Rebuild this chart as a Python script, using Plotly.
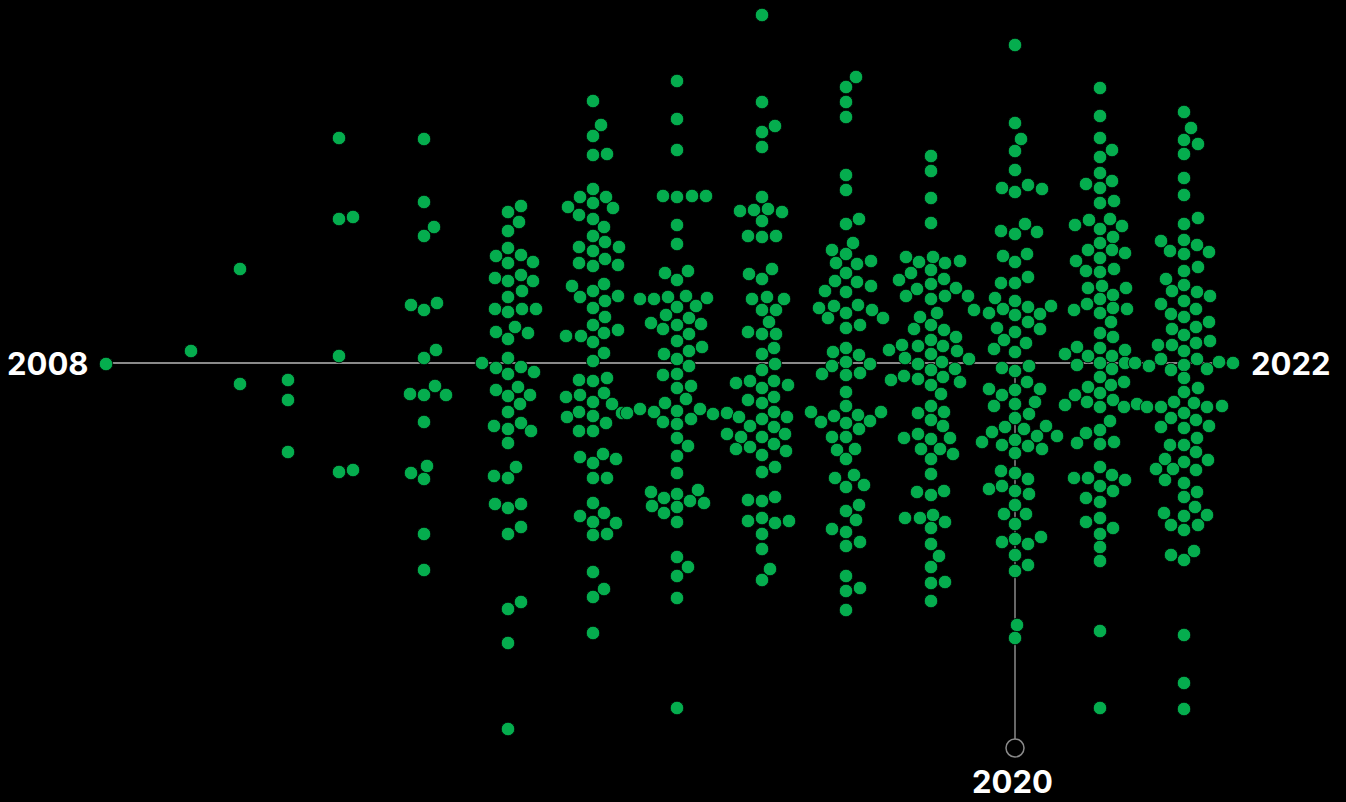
import plotly.graph_objects as go

# ---- data: horizontal position and vertical position of each dot, by year column ----
x_2008 = [106]
y_2008 = [364]
x_2009 = [191]
y_2009 = [351]
x_2010 = [240, 240]
y_2010 = [269, 384]
x_2011 = [288, 288, 288]
y_2011 = [380, 400, 452]
x_2012 = [339, 339, 353, 339, 339, 353]
y_2012 = [138, 219, 217, 356, 472, 470]

x_2013 = [424, 424, 434, 424, 411, 424, 437, 436, 424, 435, 410, 424, 446, 424, 427, 411, 424, 424, 424]
y_2013 = [139, 202, 227, 236, 305, 310, 303, 350, 358, 386, 394, 395, 395, 422, 466, 473, 479, 534, 570]

x_2014 = [521, 508, 519, 508, 508, 496, 521, 508, 533, 495, 521, 508, 533, 522, 508, 495, 522, 536, 508,
          515, 496, 528, 508, 508, 482, 496, 521, 508, 534, 496, 518, 508, 530, 520, 508, 494, 521, 508,
          531, 508, 516, 494, 508, 495, 521, 508, 521, 508, 521, 508, 508, 508]
y_2014 = [206, 212, 222, 231, 248, 256, 255, 263, 262, 278, 275, 281, 281, 291, 297, 309, 309, 309, 312,
          327, 332, 333, 339, 358, 363, 368, 367, 374, 372, 390, 387, 396, 395, 404, 412, 426, 423, 429,
          431, 443, 467, 476, 478, 504, 504, 508, 527, 534, 602, 609, 643, 729]

x_2015 = [593, 601, 593, 593, 607, 593, 580, 606, 593, 568, 613, 579, 593, 604, 593, 605, 579, 619, 593,
          605, 579, 593, 618, 572, 604, 593, 580, 605, 618, 593, 605, 593, 618, 566, 581, 604, 593, 604,
          593, 579, 593, 607, 566, 580, 604, 593, 612, 579, 567, 593, 622, 627, 606, 579, 593, 580, 603,
          616, 593, 593, 607, 593, 580, 604, 593, 616, 593, 607, 593, 604, 593, 593]
y_2015 = [101, 125, 136, 155, 154, 189, 197, 197, 203, 207, 208, 215, 219, 227, 236, 242, 247, 247, 251,
          259, 263, 266, 265, 286, 284, 291, 297, 301, 296, 308, 317, 325, 330, 336, 336, 333, 342, 353,
          361, 380, 381, 378, 397, 395, 393, 402, 404, 412, 417, 416, 413, 413, 423, 431, 431, 457, 454,
          459, 463, 478, 478, 503, 516, 513, 522, 523, 535, 534, 572, 589, 597, 633]

x_2016 = [677, 677, 677, 663, 677, 692, 706, 677, 677, 665, 688, 677, 640, 654, 668, 686, 707, 677, 696,
          666, 689, 651, 663, 677, 701, 689, 677, 664, 689, 702, 677, 689, 663, 677, 677, 691, 686, 665,
          677, 700, 640, 654, 663, 677, 691, 713, 727, 677, 688, 677, 677, 651, 664, 677, 698, 652, 677,
          690, 704, 664, 677, 677, 688, 677, 677, 677]
y_2016 = [81, 119, 150, 196, 197, 196, 196, 225, 244, 273, 271, 280, 299, 299, 297, 296, 298, 307, 306,
          315, 318, 323, 329, 325, 324, 334, 341, 354, 351, 347, 359, 366, 375, 374, 388, 386, 399, 403,
          411, 409, 409, 412, 422, 424, 419, 414, 413, 438, 446, 456, 473, 492, 498, 494, 490, 506, 507,
          501, 503, 513, 522, 557, 567, 576, 598, 708]

x_2017 = [762, 762, 775, 762, 762, 762, 740, 754, 768, 782, 762, 748, 762, 776, 749, 772, 762, 752, 767,
          784, 762, 776, 769, 748, 762, 776, 774, 762, 775, 762, 736, 750, 762, 774, 788, 748, 762, 774,
          739, 750, 762, 774, 787, 727, 741, 762, 774, 785, 736, 750, 762, 774, 786, 762, 775, 748, 762,
          775, 748, 762, 775, 789, 762, 762, 770, 762]
y_2017 = [15, 102, 126, 132, 147, 197, 211, 210, 209, 212, 221, 236, 237, 236, 274, 269, 279, 299, 297,
          299, 310, 310, 322, 332, 334, 334, 348, 354, 364, 370, 383, 381, 388, 381, 385, 400, 403, 397,
          417, 426, 419, 412, 417, 434, 437, 437, 427, 434, 449, 447, 455, 444, 451, 472, 467, 500, 501,
          497, 521, 518, 523, 521, 534, 549, 569, 580]

x_2018 = [856, 846, 846, 846, 846, 846, 846, 859, 853, 832, 846, 836, 857, 871, 846, 835, 857, 871, 825,
          846, 819, 834, 846, 858, 872, 883, 828, 846, 860, 833, 846, 859, 832, 846, 870, 822, 846, 860,
          846, 846, 858, 811, 821, 834, 846, 870, 881, 859, 832, 846, 837, 855, 846, 835, 854, 864, 846,
          846, 859, 856, 832, 846, 846, 860, 846, 846, 860, 846]
y_2018 = [77, 87, 102, 117, 175, 190, 224, 219, 243, 250, 254, 263, 264, 261, 273, 281, 282, 286, 291,
          292, 308, 306, 313, 305, 310, 318, 318, 328, 325, 352, 348, 355, 366, 362, 364, 374, 375, 373,
          392, 406, 415, 412, 422, 416, 423, 421, 412, 429, 437, 437, 450, 449, 459, 478, 475, 485, 487,
          511, 505, 520, 529, 532, 546, 542, 576, 591, 588, 610]

x_2019 = [931, 931, 931, 931, 906, 919, 933, 945, 960, 911, 931, 899, 917, 931, 944, 956, 906, 931, 945,
          968, 974, 920, 937, 914, 931, 944, 956, 889, 902, 918, 931, 943, 957, 969, 905, 931, 918, 942,
          955, 891, 904, 918, 931, 943, 960, 931, 941, 931, 944, 918, 931, 943, 904, 918, 931, 950, 921,
          940, 953, 931, 931, 917, 931, 944, 905, 920, 933, 945, 931, 931, 939, 931, 931, 945, 931]
y_2019 = [156, 171, 198, 223, 257, 262, 257, 263, 261, 273, 270, 280, 289, 284, 279, 288, 296, 299, 296,
          296, 310, 317, 313, 329, 325, 330, 337, 350, 345, 346, 340, 346, 351, 359, 358, 354, 364, 362,
          369, 380, 376, 379, 370, 377, 382, 385, 394, 406, 412, 413, 420, 426, 438, 434, 439, 438, 449,
          449, 454, 459, 474, 492, 495, 491, 518, 518, 515, 522, 528, 544, 556, 567, 583, 582, 601]

x_2020 = [1015, 1015, 1021, 1015, 1015, 1002, 1015, 1028, 1042, 1001, 1015, 1025, 1037, 1003, 1015, 1027,
          1001, 1015, 1028, 995, 1015, 1028, 1051, 989, 1003, 1015, 1040, 997, 1015, 1028, 1040, 1004,
          1026, 994, 1015, 1002, 1015, 1029, 989, 1002, 1015, 1027, 1040, 994, 1015, 1035, 1015, 1029,
          992, 1005, 1024, 1046, 982, 1002, 1015, 1037, 1057, 1015, 1028, 1042, 1001, 1015, 1028, 989,
          1002, 1015, 1029, 1015, 1004, 1026, 1015, 1002, 1015, 1028, 1041, 1015, 1015, 1028, 1017, 1015]
y_2020 = [45, 123, 139, 151, 170, 188, 192, 185, 189, 231, 234, 224, 232, 256, 262, 254,
          283, 283, 277, 298, 301, 307, 306, 313, 309, 315, 314, 328, 332, 322, 329, 340,
          343, 349, 352, 368, 371, 366, 389, 395, 390, 382, 389, 406, 404, 402, 418, 414,
          432, 427, 429, 426, 442, 445, 440, 436, 436, 453, 446, 449, 471, 473, 479, 489,
          486, 491, 494, 505, 514, 514, 524, 542, 539, 544, 537, 555, 571, 565, 625, 638]

x_2021 = [1100, 1100, 1100, 1100, 1112, 1100, 1086, 1100, 1112, 1100, 1114, 1075, 1089, 1100, 1110, 1122,
          1100, 1113, 1088, 1100, 1112, 1125, 1076, 1086, 1100, 1114, 1088, 1102, 1126, 1100, 1113, 1074,
          1087, 1100, 1113, 1127, 1111, 1100, 1113, 1065, 1077, 1088, 1100, 1112, 1125, 1077, 1100, 1112,
          1125, 1135, 1100, 1111, 1124, 1088, 1100, 1113, 1075, 1087, 1065, 1100, 1124, 1137, 1110, 1100,
          1086, 1077, 1100, 1114, 1100, 1112, 1074, 1088, 1100, 1125, 1086, 1113, 1100, 1086, 1100, 1113,
          1100, 1100, 1100, 1100, 1100]
y_2021 = [88, 116, 138, 157, 150, 173, 184, 188, 181, 203, 201, 225, 220, 229, 219, 226,
          243, 237, 250, 258, 250, 253, 261, 271, 272, 269, 288, 286, 288, 299, 295, 310,
          304, 313, 308, 309, 322, 333, 337, 354, 347, 356, 348, 356, 350, 365, 363, 369,
          363, 363, 377, 385, 382, 387, 393, 400, 395, 402, 405, 407, 407, 404, 421, 430,
          433, 443, 444, 442, 467, 475, 478, 478, 486, 480, 498, 491, 502, 522, 518, 528,
          534, 547, 561, 631, 708]

x_2022 = [1184, 1191, 1184, 1198, 1184, 1184, 1184, 1184, 1198, 1161, 1184, 1170, 1197, 1184, 1209, 1184,
          1198, 1166, 1184, 1172, 1197, 1210, 1161, 1184, 1171, 1196, 1184, 1209, 1172, 1196, 1184, 1158,
          1172, 1196, 1210, 1184, 1161, 1197, 1219, 1233, 1149, 1171, 1184, 1207, 1184, 1184, 1198, 1147,
          1161, 1174, 1194, 1184, 1207, 1222, 1171, 1196, 1161, 1184, 1209, 1197, 1170, 1184, 1196, 1165,
          1184, 1208, 1156, 1173, 1196, 1165, 1184, 1197, 1184, 1195, 1164, 1184, 1207, 1171, 1198, 1184,
          1194, 1171, 1184, 1184, 1184, 1184]
y_2022 = [112, 128, 140, 144, 154, 178, 195, 224, 218, 241, 240, 251, 245, 254, 252, 271,
          267, 279, 285, 291, 292, 296, 304, 301, 314, 309, 317, 322, 329, 327, 335, 345,
          345, 343, 341, 351, 359, 359, 362, 363, 366, 370, 365, 369, 378, 392, 388, 407,
          407, 402, 403, 413, 407, 406, 418, 420, 427, 428, 426, 438, 445, 445, 452, 459,
          462, 460, 469, 469, 470, 480, 483, 492, 497, 507, 513, 516, 515, 525, 525, 530,
          551, 555, 560, 635, 683, 709]

# timeline guides
timeline_x = [106, 1236]
timeline_y = [363, 363]
marker_x = [1015, 1015]
marker_y = [363, 739]
marker_end_x = [1015]
marker_end_y = [748]

labels = ["2008", "2022", "2020"]

all_x = (x_2008 + x_2009 + x_2010 + x_2011 + x_2012 + x_2013 + x_2014 + x_2015 + x_2016
         + x_2017 + x_2018 + x_2019 + x_2020 + x_2021 + x_2022)
all_y = (y_2008 + y_2009 + y_2010 + y_2011 + y_2012 + y_2013 + y_2014 + y_2015 + y_2016
         + y_2017 + y_2018 + y_2019 + y_2020 + y_2021 + y_2022)

GREEN = "#05ad4e"
GREY = "#8a8a8a"

fig = go.Figure()
fig.add_trace(go.Scatter(x=timeline_x, y=timeline_y, mode="lines",
                         line=dict(color=GREY, width=2), hoverinfo="skip", showlegend=False))
fig.add_trace(go.Scatter(x=marker_x, y=marker_y, mode="lines",
                         line=dict(color=GREY, width=1.5), hoverinfo="skip", showlegend=False))
fig.add_trace(go.Scatter(x=marker_end_x, y=marker_end_y, mode="markers",
                         marker=dict(symbol="circle-open", size=18, color=GREY, line=dict(width=1.5)),
                         hoverinfo="skip", showlegend=False))
fig.add_trace(go.Scatter(x=all_x, y=all_y, mode="markers",
                         marker=dict(color=GREEN, size=13.5, line=dict(color="black", width=0.8)),
                         hoverinfo="skip", showlegend=False))

font = dict(family="Inter, Roboto, sans-serif", size=31, color="white", weight=700)
fig.add_annotation(x=91, y=363, text=labels[0], showarrow=False, xanchor="right", yanchor="middle", font=font)
fig.add_annotation(x=1249, y=363, text=labels[1], showarrow=False, xanchor="left", yanchor="middle", font=font)
fig.add_annotation(x=1012, y=781, text=labels[2], showarrow=False, xanchor="center", yanchor="middle", font=font)

fig.update_layout(
    width=1346, height=802,
    margin=dict(l=0, r=0, t=0, b=0),
    paper_bgcolor="black", plot_bgcolor="black",
    xaxis=dict(range=[0, 1346], visible=False, fixedrange=True),
    yaxis=dict(range=[802, 0], visible=False, fixedrange=True),
    showlegend=False,
)

fig.write_html("out.html", config={"displayModeBar": False},
               post_script="document.body.style.margin='0';document.body.style.overflow='hidden';")
